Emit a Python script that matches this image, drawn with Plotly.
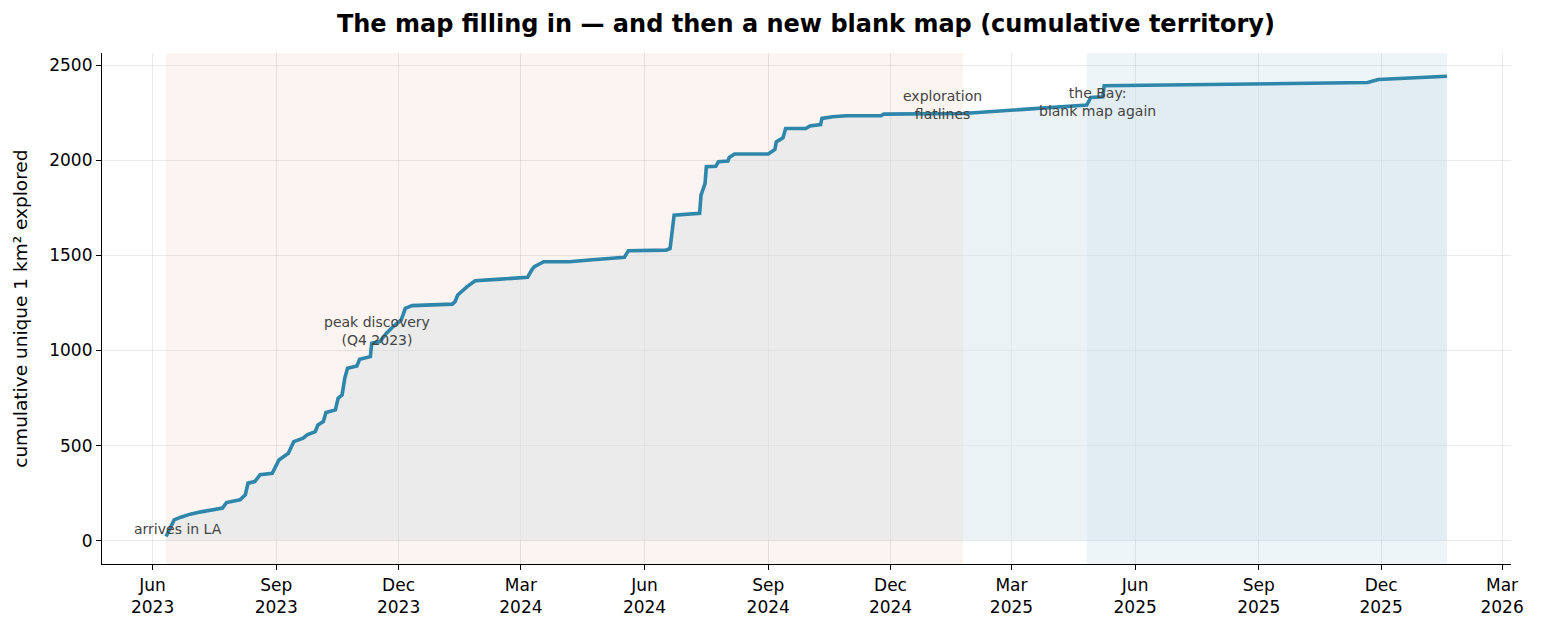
import pandas as pd
import plotly.graph_objects as go

# ---------------- data ----------------
dates = [
    "2023-06-11", "2023-06-17", "2023-06-22", "2023-06-29", "2023-07-07", "2023-07-17",
    "2023-07-23", "2023-07-26", "2023-07-31", "2023-08-05", "2023-08-09", "2023-08-11",
    "2023-08-16", "2023-08-20", "2023-08-29", "2023-08-31", "2023-09-03", "2023-09-10",
    "2023-09-14", "2023-09-21", "2023-09-24", "2023-09-30", "2023-10-02", "2023-10-06",
    "2023-10-08", "2023-10-15", "2023-10-17", "2023-10-20", "2023-10-22", "2023-10-24",
    "2023-10-31", "2023-11-02", "2023-11-10", "2023-11-11", "2023-11-17", "2023-11-22",
    "2023-11-27", "2023-12-03", "2023-12-06", "2023-12-11", "2023-12-31", "2024-01-10",
    "2024-01-12", "2024-01-14", "2024-01-21", "2024-01-27", "2024-02-12", "2024-02-24",
    "2024-03-06", "2024-03-09", "2024-03-11", "2024-03-18", "2024-04-06", "2024-04-21",
    "2024-05-06", "2024-05-17", "2024-05-20", "2024-06-17", "2024-06-20", "2024-06-21",
    "2024-06-23", "2024-07-12", "2024-07-13", "2024-07-16", "2024-07-17", "2024-07-24",
    "2024-07-26", "2024-08-02", "2024-08-03", "2024-08-07", "2024-09-01", "2024-09-06",
    "2024-09-07", "2024-09-12", "2024-09-14", "2024-09-29", "2024-10-02", "2024-10-10",
    "2024-10-11", "2024-10-19", "2024-10-29", "2024-11-24", "2024-11-26", "2025-01-24",
    "2025-04-26", "2025-04-29", "2025-05-08", "2025-05-09", "2025-11-21", "2025-11-29",
    "2026-01-19",
]
cum_km2 = [
    22, 110, 124, 140, 152, 163,
    172, 201, 210, 215, 242, 303,
    311, 347, 355, 382, 425, 460,
    521, 539, 557, 574, 609, 627,
    674, 688, 749, 767, 855, 907,
    919, 954, 968, 1038, 1047, 1091,
    1126, 1161, 1222, 1236, 1240, 1244,
    1257, 1292, 1336, 1367, 1374, 1381,
    1385, 1423, 1441, 1467, 1467, 1476,
    1485, 1490, 1525, 1528, 1537, 1598,
    1712, 1721, 1817, 1878, 1966, 1969,
    1992, 1996, 2015, 2033, 2033, 2057,
    2097, 2118, 2167, 2167, 2181, 2188,
    2220, 2229, 2234, 2234, 2243, 2246,
    2290, 2330, 2334, 2392, 2409, 2425,
    2442,
]

la_end = "2025-01-24"          # end of the LA period
bay_start = "2025-04-26"       # arrival in the Bay
bay_end = "2026-01-19"

tick_dates = ["2023-06-01", "2023-09-01", "2023-12-01", "2024-03-01", "2024-06-01",
              "2024-09-01", "2024-12-01", "2025-03-01", "2025-06-01", "2025-09-01",
              "2025-12-01", "2026-03-01"]
tick_labels = ["Jun<br>2023", "Sep<br>2023", "Dec<br>2023", "Mar<br>2024", "Jun<br>2024",
               "Sep<br>2024", "Dec<br>2024", "Mar<br>2025", "Jun<br>2025", "Sep<br>2025",
               "Dec<br>2025", "Mar<br>2026"]

notes = [
    ("arrives in LA", "2023-06-20", 63),
    ("peak discovery<br>(Q4 2023)", "2023-11-15", 1103),
    ("exploration<br>flatlines", "2025-01-09", 2290),
    ("the Bay:<br>blank map again", "2025-05-04", 2307),
]

# ---------------- figure ----------------
df = pd.DataFrame({"date": pd.to_datetime(dates), "v": cum_km2})
la = df[df["date"] <= pd.Timestamp(la_end)]
after = df[df["date"] >= pd.Timestamp(la_end)]

LINE = "#2E86AB"
FONT = "DejaVu Sans"

fig = go.Figure()
fig.add_trace(go.Scatter(x=la["date"], y=la["v"], mode="lines", line=dict(width=0),
                         fill="tozeroy", fillcolor="rgba(218,226,229,0.5)",
                         hoverinfo="skip", showlegend=False))
fig.add_trace(go.Scatter(x=after["date"], y=after["v"], mode="lines", line=dict(width=0),
                         fill="tozeroy", fillcolor="rgba(215,230,238,0.53)",
                         hoverinfo="skip", showlegend=False))
fig.add_trace(go.Scatter(x=df["date"], y=df["v"], mode="lines",
                         line=dict(color=LINE, width=3.6), showlegend=False))

# shaded periods
fig.add_shape(type="rect", xref="x", yref="paper", x0=dates[0], x1=la_end, y0=0, y1=1,
              fillcolor="#FCF4F1", line=dict(width=0), layer="below")
fig.add_shape(type="rect", xref="x", yref="paper", x0=bay_start, x1=bay_end, y0=0, y1=1,
              fillcolor="#EEF5F8", line=dict(width=0), layer="below")

for text, x, y in notes:
    fig.add_annotation(x=x, y=y, text=text, showarrow=False, xanchor="center",
                       yanchor="middle", font=dict(family=FONT, size=14, color="#444444"))

# y-axis label as rotated annotation
fig.add_annotation(xref="paper", yref="paper", x=-0.058, y=0.5, textangle=-90,
                   text="cumulative unique 1 km² explored", showarrow=False,
                   xanchor="center", yanchor="middle",
                   font=dict(family=FONT, size=18.5, color="#000000"))

# axis ranges with matplotlib-like 5% margins
x0 = pd.Timestamp(dates[0])
x1 = pd.Timestamp(bay_end)
span = x1 - x0
xr = [x0 - span * 0.05, x1 + span * 0.05]
ymax = max(cum_km2)
yr = [-0.05 * ymax, ymax * 1.05]

fig.update_layout(
    width=1541, height=631,
    margin=dict(l=102, r=30, t=53, b=67),
    paper_bgcolor="white", plot_bgcolor="white",
    font=dict(family=FONT, color="#000000"),
    title=dict(text="<b>The map filling in — and then a new blank map (cumulative territory)</b>",
               x=0.523, xanchor="center", y=0.962, yanchor="middle",
               font=dict(family=FONT, size=24, color="#000000")),
    showlegend=False,
)
fig.update_xaxes(
    type="date", range=xr, tickmode="array", tickvals=tick_dates, ticktext=tick_labels,
    showgrid=True, gridcolor="rgba(0,0,0,0.08)", gridwidth=1,
    showline=True, linecolor="black", linewidth=1.2,
    ticks="outside", ticklen=5, tickwidth=1.2, tickcolor="black",
    tickfont=dict(family=FONT, size=17), zeroline=False,
)
fig.update_yaxes(
    range=yr, tickmode="array", tickvals=[0, 500, 1000, 1500, 2000, 2500],
    showgrid=True, gridcolor="rgba(0,0,0,0.08)", gridwidth=1,
    showline=True, linecolor="black", linewidth=1.2,
    ticks="outside", ticklen=5, tickwidth=1.2, tickcolor="black",
    tickfont=dict(family=FONT, size=17), zeroline=False,
)

fig.write_html("out.html")
